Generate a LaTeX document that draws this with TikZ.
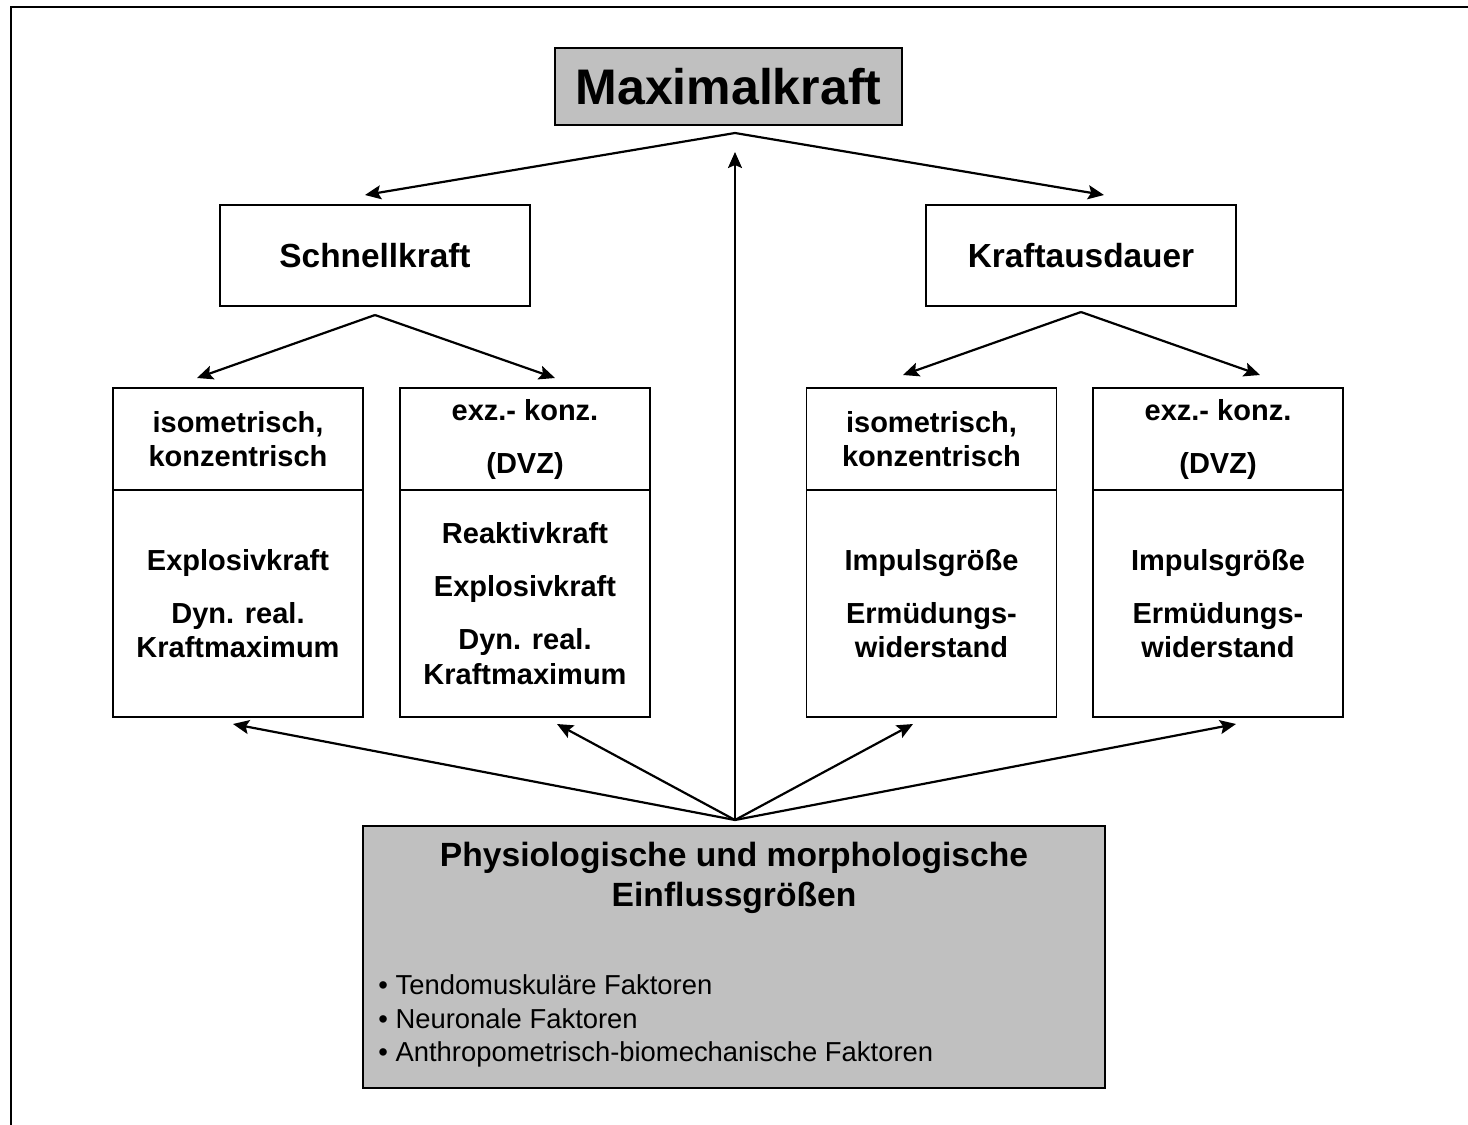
\documentclass[tikz,border=0pt]{standalone}
\usepackage{fontspec}
\setmainfont{Liberation Sans}
\usepackage{xcolor}
\usetikzlibrary{arrows.meta}
\definecolor{boxgray}{RGB}{192,192,192}
\begin{document}
\begin{tikzpicture}[x=0.5pt,y=-0.5pt,>={Stealth[length=8pt,width=7pt,inset=1.5pt]},
  box/.style={draw,line width=0.9pt,inner sep=0pt,align=center},
  kraftbox/.style={box,minimum width=155pt,minimum height=50.5pt,font=\bfseries\fontsize{16.7}{20}\selectfont},
  headbox/.style={box,minimum width=125pt,minimum height=51pt,font=\bfseries\fontsize{14.5}{17.25}\selectfont},
  bodybox/.style={box,minimum width=125pt,minimum height=113.5pt,font=\bfseries\fontsize{14.5}{17.25}\selectfont},
  link/.style={->,line width=1.1pt}]
\useasboundingbox(0,0)rectangle(1468,1125);
\draw[line width=1.2pt](11,1125)--(11,7)--(1468,7);
% top
\node[box,fill=boxgray,minimum width=173.5pt,minimum height=38.5pt,font=\bfseries\fontsize{25}{30}\selectfont](maxkraft)at(728.5,86.5){Maximalkraft};
\node[kraftbox](schnell)at(375,255.5){Schnellkraft};
\node[kraftbox](ausdauer)at(1081,255.5){Kraftausdauer};
% four columns
\node[headbox](head1)at(238,439){isometrisch,\\konzentrisch};
\node[headbox](head2)at(525,439){exz.- konz.\\[9.25pt](DVZ)};
\node[headbox](head3)at(931.5,439){isometrisch,\\konzentrisch};
\node[headbox](head4)at(1218,439){exz.- konz.\\[9.25pt](DVZ)};
\node[bodybox](body1)at(238,603.5){Explosivkraft\\[9.25pt]Dyn. real.\\Kraftmaximum};
\node[bodybox](body2)at(525,603.5){Reaktivkraft\\[9.25pt]Explosivkraft\\[9.25pt]Dyn. real.\\Kraftmaximum};
\node[bodybox](body3)at(931.5,603.5){Impulsgröße\\[9.25pt]Ermüdungs-\\widerstand};
\node[bodybox](body4)at(1218,603.5){Impulsgröße\\[9.25pt]Ermüdungs-\\widerstand};
% bottom
\node[box,fill=boxgray,minimum width=371pt,minimum height=131pt](einfluss)at(734,957){};
\node[align=center,inner sep=0pt,font=\bfseries\fontsize{16.8}{20}\selectfont](einflusstitle)at(734,878){Physiologische und morphologische\\Einflussgrößen};
\node[anchor=west,align=left,inner sep=0pt,font=\fontsize{13.7}{16.75}\selectfont](faktoren)at(378,1021){• Tendomuskuläre Faktoren\\• Neuronale Faktoren\\• Anthropometrisch-biomechanische Faktoren};
% forks
\coordinate(topfork)at(735,133);
\coordinate(sfork)at(375,315);
\coordinate(kfork)at(1081,312);
\coordinate(basefork)at(735,820);
\coordinate(tipS)at(365,195);
\coordinate(tipK)at(1104,195);
\coordinate(tipM)at(735,152);
\draw[link](topfork)--(tipS);
\draw[link](topfork)--(tipK);
\draw[link](basefork)--(tipM);
\coordinate(tip1)at(197,378);
\coordinate(tip2)at(555,378);
\coordinate(tip3)at(903,375);
\coordinate(tip4)at(1260,375);
\draw[link](sfork)--(tip1);
\draw[link](sfork)--(tip2);
\draw[link](kfork)--(tip3);
\draw[link](kfork)--(tip4);
\foreach \n/\x in {1/233,2/557,3/913,4/1236}{
  \coordinate(low\n)at(\x,724);
  \draw[link](basefork)--(low\n);}
\end{tikzpicture}
\end{document}
